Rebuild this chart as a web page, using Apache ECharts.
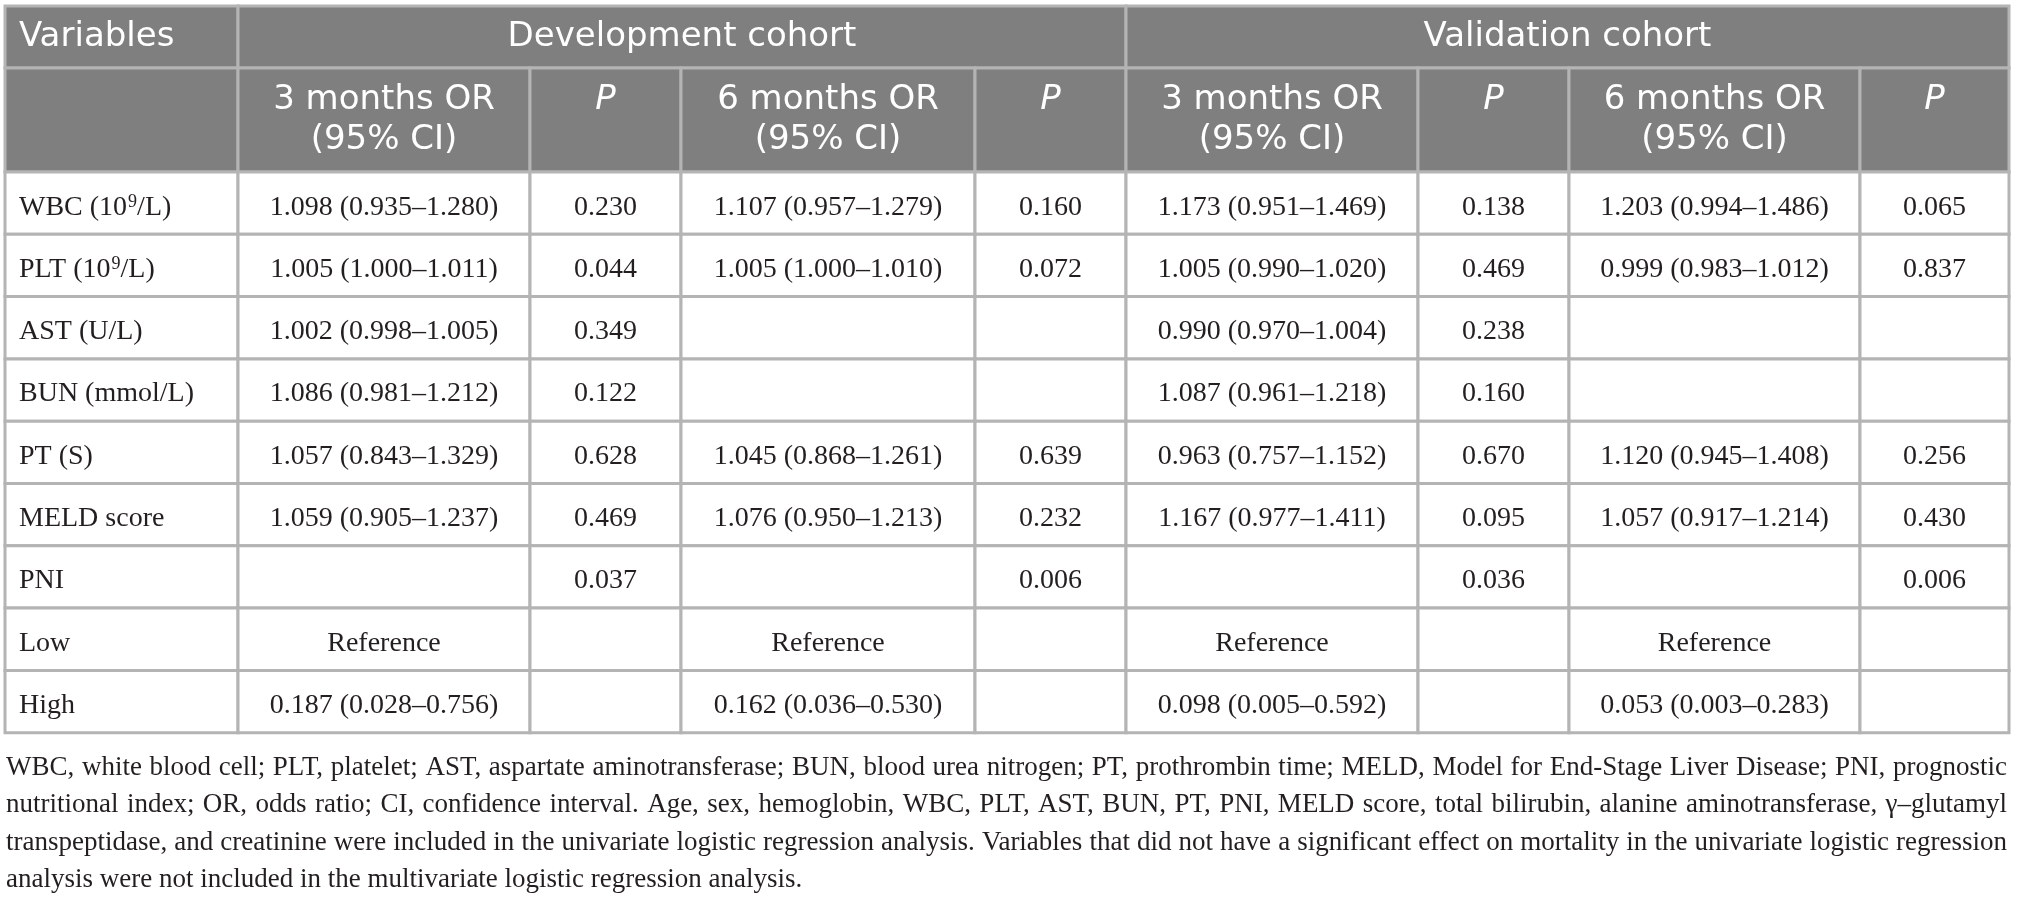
<!doctype html>
<html lang="en">
<head>
<meta charset="UTF-8">
<title>Multivariate logistic regression</title>
<script src="https://cdn.jsdelivr.net/npm/echarts/dist/echarts.min.js"></script>
<style>
  html, body { margin: 0; padding: 0; background: #fff; }
  #main { width: 2018px; height: 899px; }
</style>
</head>
<body>
<div id="main"></div>
<script type="text/javascript">
// --- table content ---
var cohorts = ['Development cohort', 'Validation cohort'];
var subHeaders = ['3 months OR\n(95% CI)', 'P', '6 months OR\n(95% CI)', 'P'];
// ^9 marks a superscript
var variables = ['WBC (10^9/L)', 'PLT (10^9/L)', 'AST (U/L)', 'BUN (mmol/L)', 'PT (S)', 'MELD score', 'PNI', 'Low', 'High'];

// odds ratio [OR, lower, upper]; 'ref' = reference level; null = empty cell
var dev3OR = [[1.098, 0.935, 1.280], [1.005, 1.000, 1.011], [1.002, 0.998, 1.005], [1.086, 0.981, 1.212],
              [1.057, 0.843, 1.329], [1.059, 0.905, 1.237], null, 'ref', [0.187, 0.028, 0.756]];
var dev3P  = [0.230, 0.044, 0.349, 0.122, 0.628, 0.469, 0.037, null, null];
var dev6OR = [[1.107, 0.957, 1.279], [1.005, 1.000, 1.010], null, null,
              [1.045, 0.868, 1.261], [1.076, 0.950, 1.213], null, 'ref', [0.162, 0.036, 0.530]];
var dev6P  = [0.160, 0.072, null, null, 0.639, 0.232, 0.006, null, null];
var val3OR = [[1.173, 0.951, 1.469], [1.005, 0.990, 1.020], [0.990, 0.970, 1.004], [1.087, 0.961, 1.218],
              [0.963, 0.757, 1.152], [1.167, 0.977, 1.411], null, 'ref', [0.098, 0.005, 0.592]];
var val3P  = [0.138, 0.469, 0.238, 0.160, 0.670, 0.095, 0.036, null, null];
var val6OR = [[1.203, 0.994, 1.486], [0.999, 0.983, 1.012], null, null,
              [1.120, 0.945, 1.408], [1.057, 0.917, 1.214], null, 'ref', [0.053, 0.003, 0.283]];
var val6P  = [0.065, 0.837, null, null, 0.256, 0.430, 0.006, null, null];

var footnoteLines = [
  'WBC, white blood cell; PLT, platelet; AST, aspartate aminotransferase; BUN, blood urea nitrogen; PT, prothrombin time; MELD, Model for End-Stage Liver Disease; PNI, prognostic',
  'nutritional index; OR, odds ratio; CI, confidence interval. Age, sex, hemoglobin, WBC, PLT, AST, BUN, PT, PNI, MELD score, total bilirubin, alanine aminotransferase, \u03b3\u2013glutamyl',
  'transpeptidase, and creatinine were included in the univariate logistic regression analysis. Variables that did not have a significant effect on mortality in the univariate logistic regression',
  'analysis were not included in the multivariate logistic regression analysis.'
];

// --- layout ---
var colWidths = [233, 292, 151, 294, 151, 292, 151, 291, 149];
var headRows = [62, 104];
var bodyRow = 62.3;
var headFill = '#7f7f7f', lineColor = '#b4b4b4', ink = '#231f20';
var headFont = '"DejaVu Sans", sans-serif';
var bodyFont = '"Liberation Serif", "Times New Roman", serif';

var colEdges = [0];
colWidths.forEach(function (w) { colEdges.push(colEdges[colEdges.length - 1] + w); });
var rowEdges = [0];
headRows.forEach(function (h) { rowEdges.push(rowEdges[rowEdges.length - 1] + h); });
variables.forEach(function () { rowEdges.push(rowEdges[rowEdges.length - 1] + bodyRow); });
var tableW = colEdges[colEdges.length - 1];
var tableH = rowEdges[rowEdges.length - 1];

function fmtOR(v) {
  if (v === null) return '';
  if (v === 'ref') return 'Reference';
  return v[0].toFixed(3) + ' (' + v[1].toFixed(3) + '\u2013' + v[2].toFixed(3) + ')';
}
function fmtP(v) { return v === null ? '' : v.toFixed(3); }
function richLabel(s) {
  var m = s.match(/^(.*)\^(\d)(.*)$/);
  if (!m) return null;
  return '{n|' + m[1] + '}{s|' + m[2] + '}{n|' + m[3] + '}';
}

// build cell list
var cells = [];
function addCell(c0, c1, r, text, kind, align) {
  cells.push({ c0: c0, c1: c1, r: r, text: text, kind: kind, align: align || 'center' });
}
addCell(0, 1, 0, 'Variables', 'head', 'left');
cohorts.forEach(function (name, k) { addCell(1 + k * 4, 5 + k * 4, 0, name, 'head'); });
addCell(0, 1, 1, '', 'sub');
cohorts.forEach(function (name, k) {
  subHeaders.forEach(function (t, j) { addCell(1 + k * 4 + j, 2 + k * 4 + j, 1, t, t === 'P' ? 'subP' : 'sub'); });
});
var bodyCols = [dev3OR, dev3P, dev6OR, dev6P, val3OR, val3P, val6OR, val6P];
variables.forEach(function (v, i) {
  addCell(0, 1, i + 2, v, 'var', 'left');
  bodyCols.forEach(function (arr, j) {
    addCell(j + 1, j + 2, i + 2, j % 2 === 0 ? fmtOR(arr[i]) : fmtP(arr[i]), 'body');
  });
});

function renderCell(params, api) {
  var c = cells[params.dataIndex];
  var p0 = api.coord([api.value(0), api.value(2)]);
  var p1 = api.coord([api.value(1), api.value(3)]);
  var x = p0[0], y = p0[1], w = p1[0] - p0[0], h = p1[1] - p0[1];
  var isHead = c.kind === 'head' || c.kind === 'sub' || c.kind === 'subP';
  var children = [{
    type: 'rect',
    shape: { x: x, y: y, width: w, height: h },
    style: { fill: isHead ? headFill : '#fff', stroke: lineColor, lineWidth: 3 }
  }];
  if (c.text) {
    var tx = c.align === 'left' ? x + 14 : x + w / 2;
    var st = { text: c.text, x: tx, align: c.align, fill: ink };
    if (c.kind === 'head') {
      st.y = y + h / 2; st.verticalAlign = 'middle';
      st.font = '34px ' + headFont; st.fill = '#fff';
    } else if (c.kind === 'sub' || c.kind === 'subP') {
      st.y = y + 12; st.verticalAlign = 'top'; st.lineHeight = 40;
      st.font = (c.kind === 'subP' ? 'italic ' : '') + '34px ' + headFont; st.fill = '#fff';
    } else {
      st.y = y + h / 2 + 4; st.verticalAlign = 'middle';
      st.font = '28px ' + bodyFont;
      var rich = c.kind === 'var' ? richLabel(c.text) : null;
      if (rich) {
        st.text = rich;
        st.rich = {
          n: { fontSize: 28, fontFamily: bodyFont, fill: ink, height: 28 },
          s: { fontSize: 18, fontFamily: bodyFont, fill: ink, verticalAlign: 'top', padding: [0, 0, 0, 1] }
        };
      }
    }
    children.push({ type: 'text', style: st, z2: 10 });
  }
  return { type: 'group', children: children };
}

// justified footnote words
var footFont = '27px ' + bodyFont;
var measureCtx = document.createElement('canvas').getContext('2d');
measureCtx.font = footFont;
var footLeft = 6, footRight = 2007, footTop = 768, footStep = 37.3;
var footGraphics = [];
footnoteLines.forEach(function (line, li) {
  var words = line.split(' ');
  var widths = words.map(function (wd) { return measureCtx.measureText(wd).width; });
  var total = widths.reduce(function (a, b) { return a + b; }, 0);
  var last = li === footnoteLines.length - 1;
  var gap = last ? measureCtx.measureText(' ').width : (footRight - footLeft - total) / (words.length - 1);
  var cx = footLeft;
  words.forEach(function (wd, k) {
    footGraphics.push({
      type: 'text', x: cx, y: footTop + li * footStep,
      style: { text: wd, font: footFont, fill: ink, align: 'left', verticalAlign: 'middle' }
    });
    cx += widths[k] + gap;
  });
});

var chart = echarts.init(document.getElementById('main'), null, { renderer: 'canvas' });
chart.setOption({
  animation: false,
  grid: { left: 5, top: 6, width: tableW, height: tableH },
  xAxis: { type: 'value', min: 0, max: tableW, show: false },
  yAxis: { type: 'value', min: 0, max: tableH, inverse: true, show: false },
  series: [{
    type: 'custom',
    renderItem: renderCell,
    clip: false,
    encode: { x: [0, 1], y: [2, 3] },
    data: cells.map(function (c) { return [colEdges[c.c0], colEdges[c.c1], rowEdges[c.r], rowEdges[c.r + 1]]; })
  }],
  graphic: footGraphics
});
</script>
</body>
</html>
